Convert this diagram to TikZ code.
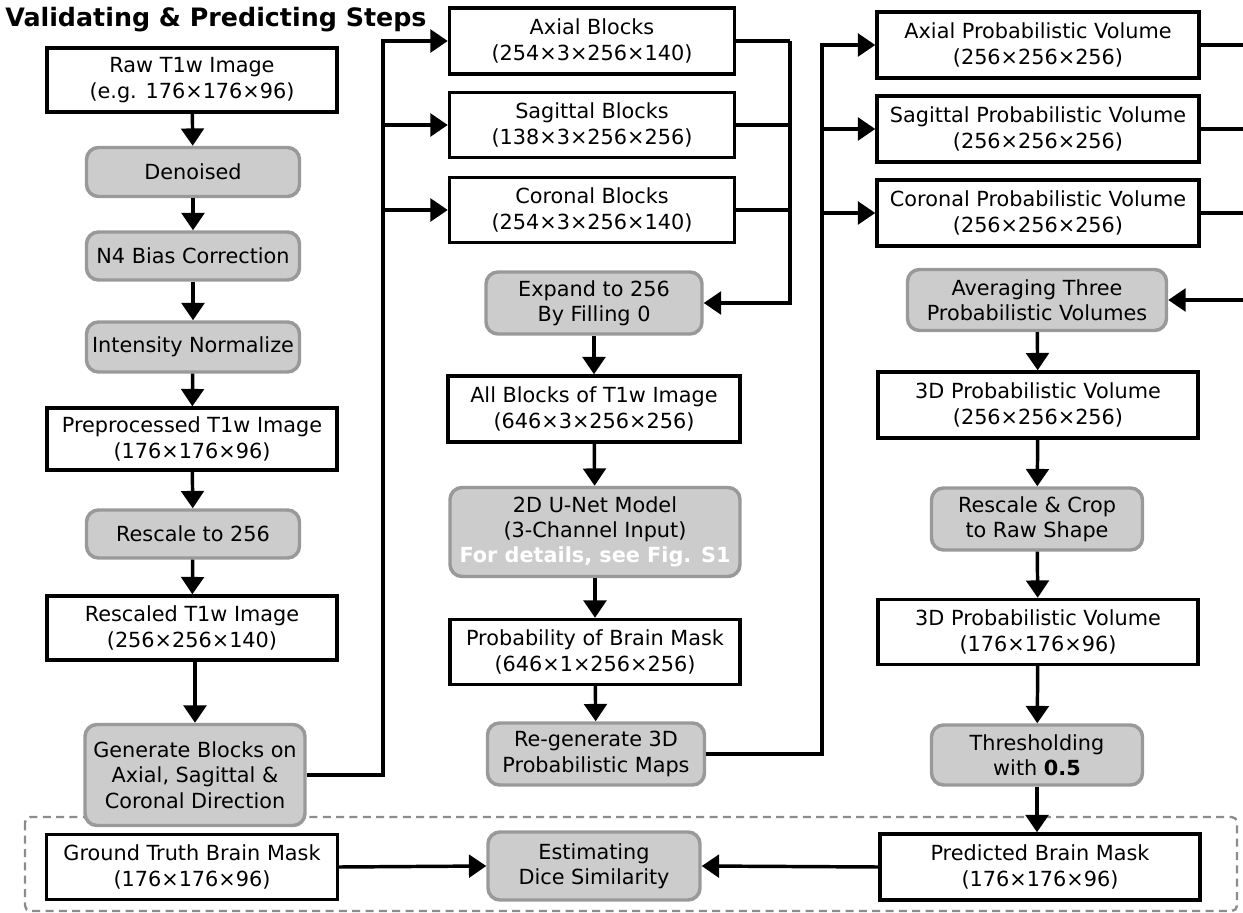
\documentclass[tikz,border=0pt]{standalone}
\usepackage{fontspec}
\setmainfont{DejaVu Sans}
\usetikzlibrary{arrows.meta}
\definecolor{boxgray}{HTML}{CCCCCC}
\definecolor{edgegray}{HTML}{999999}
\definecolor{dashgray}{HTML}{8C8C8C}
\tikzset{
  base/.style={align=center, inner sep=0pt, font=\fontsize{15.6}{19}\selectfont},
  wbox/.style={base, draw=black, line width=2.6pt, fill=white},
  gbox/.style={base, draw=edgegray, line width=2.6pt, fill=boxgray, rounded corners=9pt},
  arr/.style={line width=2.6pt, -{Triangle[length=13pt,width=17pt]}},
  ln/.style={line width=2.6pt},
  sz/.style 2 args={minimum width=#1*0.75pt, minimum height=#2*0.75pt},
}
\begin{document}
\begin{tikzpicture}[x=0.75pt,y=-0.75pt]
\useasboundingbox (0,0) rectangle (1243,913);
% title
\node[anchor=base west, inner sep=0pt, font=\fontsize{19}{22}\selectfont\bfseries] (title) at (5,27) {Validating \& Predicting Steps};
% dashed evaluation box
\draw[dashgray, line width=1.8pt, dash pattern=on 6pt off 4pt, rounded corners=4pt] (25,817) rectangle (1237,911);
% column 1
\node[wbox, sz={290}{64}] (raw) at (192,80) {Raw T1w Image\\(e.g. 176×176×96)};
\node[gbox, sz={213}{49}] (den) at (193,172) {Denoised};
\node[gbox, sz={213}{48}] (n4) at (193,256) {N4 Bias Correction};
\node[gbox, sz={213}{50}] (inorm) at (193,347) {Intensity Normalize};
\node[wbox, sz={290}{62}] (pre) at (192,439) {Preprocessed T1w Image\\(176×176×96)};
\node[gbox, sz={213}{48}] (resc) at (193,534) {Rescale to 256};
\node[wbox, sz={290}{64}] (rescd) at (192,628) {Rescaled T1w Image\\(256×256×140)};
\node[gbox, sz={220}{101}] (gen) at (195,775) {Generate Blocks on\\Axial, Sagittal \&\\Coronal Direction};
% column 2
\node[wbox, sz={285}{66}] (axb) at (592,41) {Axial Blocks\\(254×3×256×140)};
\node[wbox, sz={285}{65}] (sagb) at (592,125) {Sagittal Blocks\\(138×3×256×256)};
\node[wbox, sz={285}{65}] (corb) at (592,210) {Coronal Blocks\\(254×3×256×140)};
\node[gbox, sz={216}{62}] (exp) at (594,303) {Expand to 256\\By Filling 0};
\node[wbox, sz={292}{66}] (allb) at (594,409) {All Blocks of T1w Image\\(646×3×256×256)};
\node[gbox, sz={290}{89}] (unet) at (595,532) {2D U-Net Model\\(3-Channel Input)\\\textcolor{white}{\bfseries For details, see Fig. S1}};
\node[wbox, sz={290}{65}] (prob) at (595,652) {Probability of Brain Mask\\(646×1×256×256)};
\node[gbox, sz={217}{62}] (regen) at (596,754) {Re-generate 3D\\Probabilistic Maps};
% column 3
\node[wbox, sz={322}{66}] (axv) at (1038,45) {Axial Probabilistic Volume\\(256×256×256)};
\node[wbox, sz={322}{66}] (sagv) at (1038,129) {Sagittal Probabilistic Volume\\(256×256×256)};
\node[wbox, sz={322}{66}] (corv) at (1038,213) {Coronal Probabilistic Volume\\(256×256×256)};
\node[gbox, sz={259}{61}] (avg) at (1037,300) {Averaging Three\\Probabilistic Volumes};
\node[wbox, sz={320}{66}] (v3d) at (1038,405) {3D Probabilistic Volume\\(256×256×256)};
\node[gbox, sz={211}{62}] (rcrop) at (1037,519) {Rescale \& Crop\\to Raw Shape};
\node[wbox, sz={320}{65}] (v3dr) at (1038,632) {3D Probabilistic Volume\\(176×176×96)};
\node[gbox, sz={211}{60}] (thr) at (1037,755) {Thresholding\\with \textbf{0.5}};
\node[wbox, sz={320}{66}] (pred) at (1040,867) {Predicted Brain Mask\\(176×176×96)};
\node[gbox, sz={212}{68}] (est) at (594,866) {Estimating\\Dice Similarity};
\node[wbox, sz={291}{65}] (gt) at (192,867) {Ground Truth Brain Mask\\(176×176×96)};
% trunk coordinates
\coordinate (t1) at (383,0);
\coordinate (t2) at (790,0);
\coordinate (t3) at (822,0);
\coordinate (t4) at (1243,0);
% column 1 arrows
\draw[arr] (raw) -- (den);
\draw[arr] (den) -- (n4);
\draw[arr] (n4) -- (inorm);
\draw[arr] (inorm) -- (pre);
\draw[arr] (pre) -- (resc);
\draw[arr] (resc) -- (rescd);
\draw[arr] (rescd.south -| gen.north) -- (gen.north);
% split to blocks
\draw[arr] (gen.east) -| (t1 |- axb.west) -- (axb.west);
\draw[arr] (t1 |- sagb.west) -- (sagb.west);
\draw[arr] (t1 |- corb.west) -- (corb.west);
% merge blocks
\draw[ln] (axb.east) -- (t2 |- axb.east);
\draw[ln] (sagb.east) -- (t2 |- sagb.east);
\draw[ln] (corb.east) -- (t2 |- corb.east);
\draw[arr] (t2 |- axb.east) -- (t2 |- exp.east) -- (exp.east);
% column 2 arrows
\draw[arr] (exp) -- (allb);
\draw[arr] (allb) -- (unet);
\draw[arr] (unet) -- (prob);
\draw[arr] (prob) -- (regen);
% split to volumes
\draw[arr] (regen.east) -| (t3 |- axv.west) -- (axv.west);
\draw[arr] (t3 |- sagv.west) -- (sagv.west);
\draw[arr] (t3 |- corv.west) -- (corv.west);
% volumes out to right edge
\draw[ln] (axv.east) -- (t4 |- axv.east);
\draw[ln] (sagv.east) -- (t4 |- sagv.east);
\draw[ln] (corv.east) -- (t4 |- corv.east);
\draw[arr] (t4 |- avg.east) -- (avg.east);
% column 3 arrows
\draw[arr] (avg) -- (v3d);
\draw[arr] (v3d) -- (rcrop);
\draw[arr] (rcrop) -- (v3dr);
\draw[arr] (v3dr) -- (thr);
\draw[arr] (thr) -- (thr |- pred.north);
% evaluation
\draw[arr] (pred.west) -- (est.east);
\draw[arr] (gt.east) -- (est.west);
\end{tikzpicture}
\end{document}
